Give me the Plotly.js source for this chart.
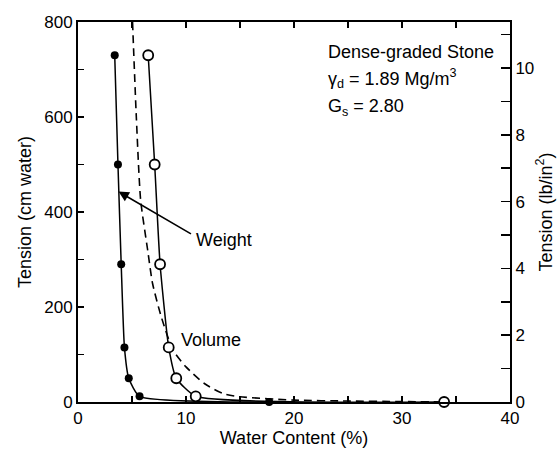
<!DOCTYPE html>
<html>
<head>
<meta charset="utf-8">
<script src="https://cdn.plot.ly/plotly-3.0.1.min.js"></script>
<style>html,body{margin:0;padding:0;background:#fff;}#chart{width:560px;height:450px;}</style>
</head>
<body>
<div id="chart"></div>
<script>
// Data
const waterWeight = [3.4, 3.7, 4.0, 4.3, 4.7, 5.7, 17.7];
const tensionWeight = [730, 500, 290, 115, 50, 12, 0];
const waterVolume = [6.5, 7.1, 7.6, 8.4, 9.1, 10.9, 33.9];
const tensionVolume = [730, 500, 290, 115, 50, 12, 0];
const waterComputed = [5.05, 5.4, 5.8, 6.45, 6.9, 7.7, 8.8, 10.0, 11.7, 13.4, 15.0, 20.0, 25.0, 30.0, 34.0];
const tensionComputed = [800, 600, 425, 320, 250, 180, 109, 74, 39, 18, 11, 4, 2, 1, 0];
const cmWaterPerPsi = 70.307;
const xTicks = [0, 10, 20, 30, 40];
const leftTicks = [0, 200, 400, 600, 800];
const rightTicks = [0, 2, 4, 6, 8, 10];

const FONT = 'Liberation Sans, Arial, Helvetica, sans-serif';

const traces = [
  {
    x: waterComputed, y: tensionComputed, mode: 'lines', type: 'scatter',
    line: {color: '#000', width: 1.6, dash: '8px,5px', shape: 'spline', smoothing: 0.6},
    hoverinfo: 'skip', cliponaxis: true
  },
  {
    x: waterWeight, y: tensionWeight, mode: 'lines+markers', type: 'scatter',
    line: {color: '#000', width: 1.5, shape: 'spline', smoothing: 0.5},
    marker: {color: '#000', size: 8, symbol: 'circle'},
    cliponaxis: false
  },
  {
    x: waterVolume, y: tensionVolume, mode: 'lines+markers', type: 'scatter',
    line: {color: '#000', width: 1.5, shape: 'spline', smoothing: 0.5},
    marker: {color: '#fff', size: 10, symbol: 'circle', line: {color: '#000', width: 1.8}},
    cliponaxis: false
  },
  // empty trace so the right-hand axis is attached to the subplot
  {x: [], y: [], yaxis: 'y2', type: 'scatter', mode: 'lines', hoverinfo: 'skip', showlegend: false}
];

const layout = {
  width: 560, height: 450,
  margin: {l: 78, r: 50, t: 22, b: 48},
  paper_bgcolor: '#fff', plot_bgcolor: '#fff',
  showlegend: false,
  font: {family: FONT, size: 17, color: '#000'},
  xaxis: {
    range: [0, 40], tickvals: xTicks, ticktext: xTicks.map(String),
    ticks: 'inside', ticklen: 6, tickwidth: 1.5, tickcolor: '#000',
    minor: {dtick: 5, ticks: 'inside', ticklen: 6, tickwidth: 1.5, tickcolor: '#000'},
    showline: true, linecolor: '#000', linewidth: 2, mirror: 'ticks',
    showgrid: false, zeroline: false,
    tickfont: {family: FONT, size: 17},
    title: {text: 'Water Content (%)', font: {family: FONT, size: 18}, standoff: 2}
  },
  yaxis: {
    range: [0, 800], tickvals: leftTicks, ticktext: leftTicks.map(String),
    ticks: 'inside', ticklen: 6, tickwidth: 1.5, tickcolor: '#000',
    minor: {dtick: 100, ticks: 'inside', ticklen: 6, tickwidth: 1.5, tickcolor: '#000'},
    showline: true, linecolor: '#000', linewidth: 2, mirror: false,
    showgrid: false, zeroline: false,
    tickfont: {family: FONT, size: 17},
    title: {text: 'Tension (cm water)', font: {family: FONT, size: 18}, standoff: 8}
  },
  yaxis2: {
    overlaying: 'y', side: 'right', anchor: 'x',
    range: [0, 800 / cmWaterPerPsi], tickvals: rightTicks, ticktext: rightTicks.map(String),
    ticks: 'inside', ticklen: 9, tickwidth: 1.5, tickcolor: '#000',
    minor: {dtick: 1, ticks: 'inside', ticklen: 9, tickwidth: 1.5, tickcolor: '#000'},
    showline: true, linecolor: '#000', linewidth: 2,
    showgrid: false, zeroline: false,
    tickfont: {family: FONT, size: 17},
    title: {text: 'Tension (lb/in<sup>2</sup>)', font: {family: FONT, size: 18}, standoff: 6}
  },
  annotations: [
    {x: 3.75, y: 443, ax: 10.6, ay: 352, axref: 'x', ayref: 'y', xref: 'x', yref: 'y',
     text: '', showarrow: true, arrowhead: 2, arrowsize: 1.3, arrowwidth: 1.6, arrowcolor: '#000'},
    {x: 13.5, y: 341, xref: 'x', yref: 'y', text: 'Weight', showarrow: false,
     font: {family: FONT, size: 18, color: '#000'}},
    {x: 12.3, y: 130, xref: 'x', yref: 'y', text: 'Volume', showarrow: false,
     font: {family: FONT, size: 18, color: '#000'}},
    {x: 23.0, y: 737, xref: 'x', yref: 'y', text: 'Dense-graded Stone', showarrow: false,
     xanchor: 'left', font: {family: FONT, size: 18, color: '#000'}},
    {x: 23.0, y: 681, xref: 'x', yref: 'y', text: 'γ<sub>d</sub> = 1.89 Mg/m<sup>3</sup>', showarrow: false,
     xanchor: 'left', font: {family: FONT, size: 18, color: '#000'}},
    {x: 23.0, y: 619, xref: 'x', yref: 'y', text: 'G<sub>s</sub> = 2.80', showarrow: false,
     xanchor: 'left', font: {family: FONT, size: 18, color: '#000'}}
  ]
};

Plotly.newPlot('chart', traces, layout, {staticPlot: true, displayModeBar: false});
</script>
</body>
</html>
